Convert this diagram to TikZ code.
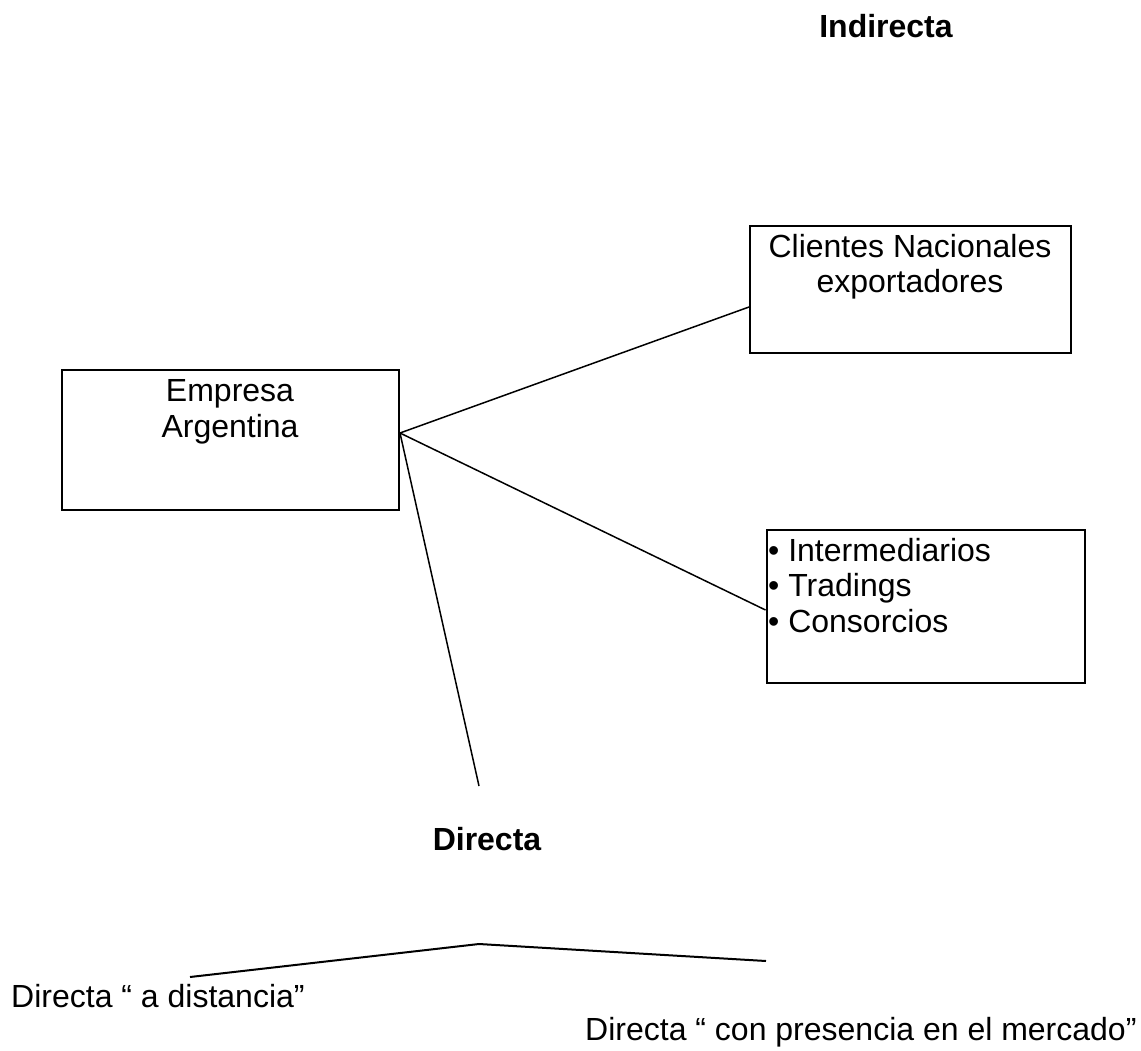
\documentclass[tikz,border=0pt]{standalone}
\usepackage{fontspec}
\setmainfont{Liberation Sans}
\begin{document}
\begin{tikzpicture}[x=1pt,y=-1pt,
  box/.style={draw=black, line width=2pt, inner sep=0pt},
  conn/.style={draw=black, line width=1.5pt},
  txt/.style={inner sep=0pt, font=\fontsize{32}{36}\selectfont},
  btxt/.style={inner sep=0pt, font=\fontsize{32}{36}\selectfont\bfseries}]
\useasboundingbox[fill=white] (0,0) rectangle (1141,1050);
% boxes
\node[box, minimum width=321pt, minimum height=127pt] (cli) at (910.5,289) {};
\node[box, minimum width=337pt, minimum height=140pt] (emp) at (230.5,440) {};
\node[box, minimum width=318pt, minimum height=153pt] (int) at (925.5,606.5) {};
% texts
\node[txt, anchor=base] (cli1) at (910,257) {Clientes Nacionales};
\node[txt, anchor=base] (cli2) at (910,292) {exportadores};
\node[txt, anchor=base] (emp1) at (230,401) {Empresa};
\node[txt, anchor=base] (emp2) at (230,437) {Argentina};
\node[txt, anchor=base west] (int1) at (768,561) {• Intermediarios};
\node[txt, anchor=base west] (int2) at (768,596) {• Tradings};
\node[txt, anchor=base west] (int3) at (768,632) {• Consorcios};
\node[btxt, anchor=base] (ind) at (886,37) {Indirecta};
\node[btxt, anchor=base] (dir) at (487,850) {Directa};
\node[txt, anchor=base west] (dist) at (11,1007) {Directa “ a distancia”};
\node[txt, anchor=base west] (pres) at (585,1040) {Directa “ con presencia en el mercado”};
% connector points
\coordinate (hub) at ([yshift=7pt]emp.east);
\coordinate (dend) at (479,786);
\coordinate (apex) at (479,944);
\coordinate (bl) at (190,977);
\coordinate (br) at (766,961);
% connectors
\draw[conn] (hub) -- ([yshift=-18pt]cli.west);
\draw[conn] (hub) -- ([yshift=-3.5pt]int.west);
\draw[conn] (hub) -- (dend);
\draw[conn, line width=2pt] (bl) -- (apex) -- (br);
\end{tikzpicture}
\end{document}
